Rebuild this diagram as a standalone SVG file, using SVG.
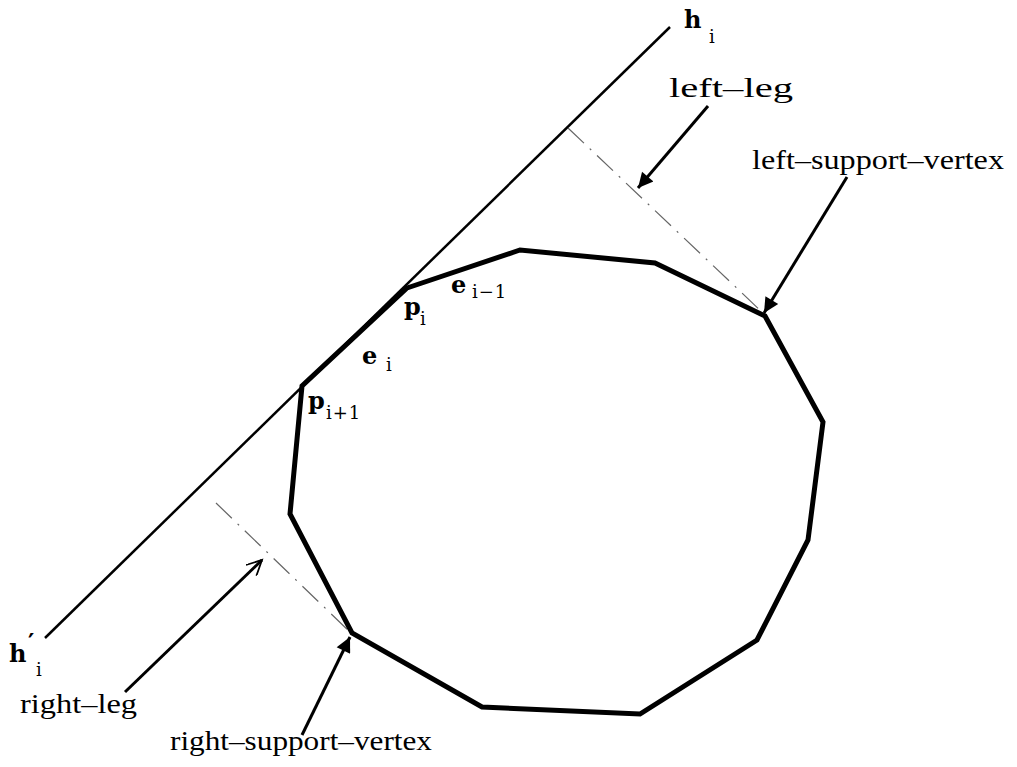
<svg xmlns="http://www.w3.org/2000/svg" width="1017" height="767" viewBox="0 0 1017 767">
<style>
.lbl{font-family:"Liberation Serif","Times New Roman",serif;font-size:27px;fill:#000}
.m{font-family:"DejaVu Serif","Liberation Serif",serif;font-weight:bold;font-size:24px;fill:#000}
.s{font-family:"DejaVu Serif","Liberation Serif",serif;font-size:18px;fill:#000}
.arrow{stroke:#000;stroke-width:3;fill:none}
.leg{stroke:#666;stroke-width:1.2;fill:none;stroke-dasharray:22 8 2 8}
</style>
<defs>
<marker id="ah" viewBox="0 0 10 10" refX="10" refY="5" markerWidth="8.5" markerHeight="5" markerUnits="strokeWidth" orient="auto">
<path d="M0,0 L10,5 L0,10 z" fill="#000"/>
</marker>
<marker id="ao" viewBox="0 0 10 10" refX="10" refY="5" markerWidth="7" markerHeight="5" markerUnits="strokeWidth" orient="auto">
<path d="M0,0 L10,5 L0,10" fill="none" stroke="#000" stroke-width="1.2"/>
</marker>
</defs>
<rect width="1017" height="767" fill="#fff"/>
<g id="hline"><line x1="45" y1="638" x2="670" y2="27" stroke="#000" stroke-width="2.5"/></g>
<g id="legs">
<line class="leg" x1="568" y1="128" x2="763" y2="313"/>
<line class="leg" x1="216" y1="503" x2="351" y2="633"/>
</g>
<g id="polygon"><polygon points="407,288 520,250 655,263 765,316 823,422 808,540 757,640 640,714 482,707 352,633 290,514 302,386" fill="none" stroke="#000" stroke-width="5" stroke-linejoin="miter"/></g>
<g id="connectors">
<line class="arrow" x1="708" y1="106" x2="638" y2="188" marker-end="url(#ah)"/>
<line class="arrow" x1="847" y1="177" x2="764" y2="313" marker-end="url(#ah)"/>
<line class="arrow" x1="302" y1="735" x2="350" y2="637" marker-end="url(#ah)"/>
<line class="arrow" x1="125" y1="692" x2="262" y2="560" marker-end="url(#ao)"/>
</g>
<g id="label-hi"><text class="m" x="684" y="28">h</text><text class="s" x="709" y="43">i</text></g>
<g id="label-hpi"><text class="m" x="9" y="662">h</text><text class="m" x="28" y="651" font-size="18">′</text><text class="s" x="36" y="676">i</text></g>
<g id="label-leftleg"><text class="lbl" x="669" y="97" textLength="124" lengthAdjust="spacingAndGlyphs">left–leg</text></g>
<g id="label-lsv"><text class="lbl" x="752" y="169" textLength="252" lengthAdjust="spacingAndGlyphs">left–support–vertex</text></g>
<g id="label-rightleg"><text class="lbl" x="20" y="713" textLength="117" lengthAdjust="spacingAndGlyphs">right–leg</text></g>
<g id="label-rsv"><text class="lbl" x="170" y="750" textLength="262" lengthAdjust="spacingAndGlyphs">right–support–vertex</text></g>
<g id="label-pi"><text class="m" x="404" y="315">p</text><text class="s" x="420" y="325">i</text></g>
<g id="label-ei1"><text class="m" x="451" y="293">e</text><text class="s" x="472" y="298" letter-spacing="1">i−1</text></g>
<g id="label-ei"><text class="m" x="362" y="364">e</text><text class="s" x="386" y="371">i</text></g>
<g id="label-pi1"><text class="m" x="308" y="409">p</text><text class="s" x="326" y="419" letter-spacing="1">i+1</text></g>
</svg>
